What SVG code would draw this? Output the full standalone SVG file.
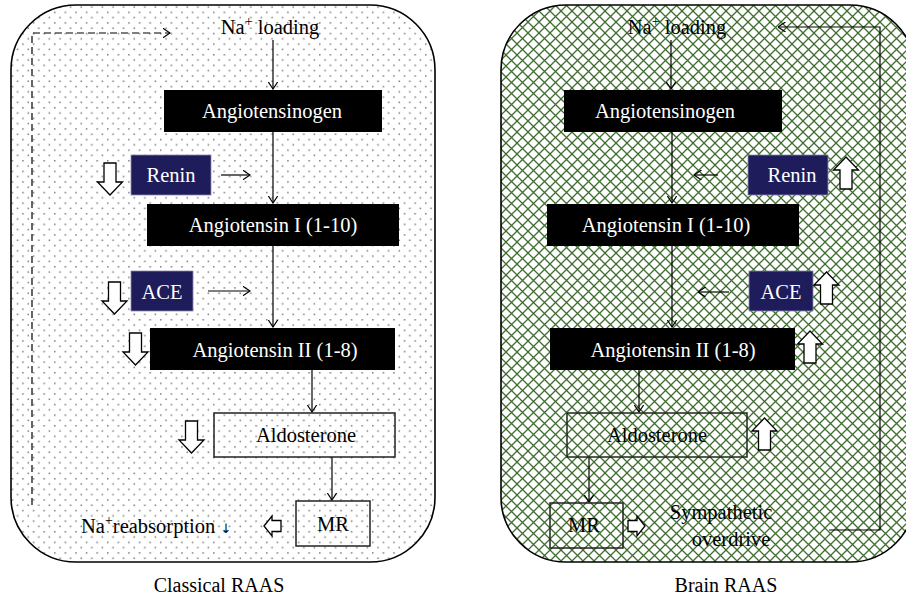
<svg xmlns="http://www.w3.org/2000/svg" xmlns:xlink="http://www.w3.org/1999/xlink" width="906" height="600" viewBox="0 0 906 600">
<style>
  text { font-family: "Liberation Serif", "Times New Roman", serif; font-size: 20.5px; }
  .w { fill: #ffffff; }
  .k { fill: #000000; }
  .mid { text-anchor: middle; }
  .blk { fill: #000000; }
  .navy { fill: #1f1c5b; stroke: #8a8ab0; stroke-width: 0.8; }
  .wbox { fill: none; stroke: #222; stroke-width: 1.5; }
  .hollow { fill: #ffffff; stroke: #000; stroke-width: 1.3; stroke-linejoin: miter; }
  .conn { fill: none; stroke: #000; stroke-width: 1.2; }
  .dash { stroke-dasharray: 7 4; }
  .panel { stroke: #000; stroke-width: 1.6; }
  .cap { font-size: 20px; }
  .sym { font-family: "DejaVu Sans", sans-serif; font-size: 13px; fill: #000000; }
</style>
<defs>
  <pattern id="dots" patternUnits="userSpaceOnUse" width="10.6" height="10.6">
    <rect width="10.6" height="10.6" fill="#ffffff"/>
    <rect x="1" y="1" width="1.5" height="1.5" fill="#7a7a7a"/>
    <rect x="6.3" y="6.3" width="1.5" height="1.5" fill="#7a7a7a"/>
  </pattern>
  <pattern id="hatch" patternUnits="userSpaceOnUse" width="11" height="11">
    <rect width="11" height="11" fill="#ffffff"/>
    <path d="M0,0 L11,11 M0,11 L11,0 M-1,1 L1,-1 M10,12 L12,10" stroke="#3f6e30" stroke-width="1.3" fill="none"/>
  </pattern>
  <marker id="chev" viewBox="0 0 8 10" refX="7.5" refY="5" markerWidth="8" markerHeight="10" markerUnits="userSpaceOnUse" orient="auto">
    <path d="M0,0 L7.5,5 L0,10" fill="none" stroke="#000" stroke-width="1.2"/>
  </marker>
  <path id="downArrow" d="M-6,0 H6 V19 H12.5 L0,32 L-12.5,19 H-6 Z"/>
  <path id="upArrow" d="M-6,0 H6 V-19 H12.5 L0,-32 L-12.5,-19 H-6 Z"/>
  <path id="leftArrow" d="M0,0 L8,-10 V-5.5 H17 V5.5 H8 V10 Z"/>
  <path id="rightArrow" d="M0,0 L-8,-10 V-5.5 H-17 V5.5 H-8 V10 Z"/>
</defs>

<!-- Panels -->
<g id="panel-classical">
  <rect x="11" y="5" width="424" height="557" rx="65" ry="65" fill="url(#dots)" class="panel"/>
</g>
<g id="panel-brain">
  <rect x="501" y="5" width="414" height="557" rx="65" ry="65" fill="url(#hatch)" class="panel"/>
</g>

<!-- Connectors -->
<g id="connectors">
  <!-- classical -->
  <path class="conn" d="M273,40 V89" marker-end="url(#chev)"/>
  <path class="conn" d="M273,132 V203" marker-end="url(#chev)"/>
  <path class="conn" d="M221,175 H250" marker-end="url(#chev)"/>
  <path class="conn" d="M273,246 V327" marker-end="url(#chev)"/>
  <path class="conn" d="M208,291 H250" marker-end="url(#chev)"/>
  <path class="conn" d="M312,370 V412" marker-end="url(#chev)"/>
  <path class="conn" d="M332,457 V500" marker-end="url(#chev)"/>
  <path class="conn dash" d="M32,505 V33 H170" marker-end="url(#chev)"/>
  <!-- brain -->
  <path class="conn" d="M671,40 V89" marker-end="url(#chev)"/>
  <path class="conn" d="M672,132 V203" marker-end="url(#chev)"/>
  <path class="conn" d="M718,175 H694" marker-end="url(#chev)"/>
  <path class="conn" d="M672,246 V327" marker-end="url(#chev)"/>
  <path class="conn" d="M729,292 H698" marker-end="url(#chev)"/>
  <path class="conn" d="M639,370 V412" marker-end="url(#chev)"/>
  <path class="conn" d="M589,457 V502" marker-end="url(#chev)"/>
  <path class="conn" d="M829,530 H880 V27 H778" marker-end="url(#chev)"/>
</g>

<!-- Classical RAAS nodes -->
<g id="c-na-loading">
  <text class="k mid" x="270" y="34">Na<tspan dy="-8" font-size="14">+</tspan><tspan dy="8"> loading</tspan></text>
</g>
<g id="c-angiotensinogen">
  <rect class="blk" x="164" y="90" width="218" height="42"/>
  <text class="w mid" x="272" y="118">Angiotensinogen</text>
</g>
<g id="c-renin">
  <rect class="navy" x="131" y="155" width="80" height="40"/>
  <text class="w mid" x="171" y="182">Renin</text>
  <use href="#downArrow" class="hollow" x="110" y="163"/>
</g>
<g id="c-ang1">
  <rect class="blk" x="147" y="204" width="252" height="42"/>
  <text class="w mid" x="273" y="232">Angiotensin I (1-10)</text>
</g>
<g id="c-ace">
  <rect class="navy" x="131" y="271" width="62" height="40"/>
  <text class="w mid" x="162" y="299">ACE</text>
  <use href="#downArrow" class="hollow" x="114.5" y="282"/>
</g>
<g id="c-ang2">
  <rect class="blk" x="150" y="328" width="245" height="42"/>
  <text class="w mid" x="275" y="357">Angiotensin II (1-8)</text>
  <use href="#downArrow" class="hollow" x="135.5" y="333"/>
</g>
<g id="c-aldosterone">
  <rect class="wbox" x="214" y="413" width="181" height="44"/>
  <text class="k mid" x="306" y="442">Aldosterone</text>
  <use href="#downArrow" class="hollow" x="191.5" y="421"/>
</g>
<g id="c-mr">
  <rect class="wbox" x="296" y="501" width="74" height="45"/>
  <text class="k mid" x="333" y="531">MR</text>
</g>
<g id="c-na-reabsorption">
  <text class="k" x="81" y="533">Na<tspan dy="-8" font-size="14">+</tspan><tspan dy="8">reabsorption </tspan><tspan class="sym">↓&#xFE0E;</tspan></text>
  <use href="#leftArrow" class="hollow" x="264" y="526"/>
</g>
<g id="c-caption">
  <text class="k mid cap" x="219" y="592">Classical RAAS</text>
</g>

<!-- Brain RAAS nodes -->
<g id="b-na-loading">
  <text class="k mid" x="677" y="34">Na<tspan dy="-8" font-size="14">+</tspan><tspan dy="8"> loading</tspan></text>
</g>
<g id="b-angiotensinogen">
  <rect class="blk" x="564" y="90" width="218" height="42"/>
  <text class="w mid" x="665" y="118">Angiotensinogen</text>
</g>
<g id="b-renin">
  <rect class="navy" x="748" y="155" width="80" height="40"/>
  <text class="w mid" x="792" y="182">Renin</text>
  <use href="#upArrow" class="hollow" x="846" y="189"/>
</g>
<g id="b-ang1">
  <rect class="blk" x="547" y="204" width="252" height="42"/>
  <text class="w mid" x="666" y="232">Angiotensin I (1-10)</text>
</g>
<g id="b-ace">
  <rect class="navy" x="749" y="271" width="64" height="40"/>
  <text class="w mid" x="781" y="299">ACE</text>
  <use href="#upArrow" class="hollow" x="826.5" y="304"/>
</g>
<g id="b-ang2">
  <rect class="blk" x="550" y="328" width="245" height="42"/>
  <text class="w mid" x="673" y="357">Angiotensin II (1-8)</text>
  <use href="#upArrow" class="hollow" x="810" y="363"/>
</g>
<g id="b-aldosterone">
  <rect class="wbox" x="567" y="413" width="180" height="44"/>
  <text class="k mid" x="657" y="442">Aldosterone</text>
  <use href="#upArrow" class="hollow" x="764.5" y="450"/>
</g>
<g id="b-mr">
  <rect class="wbox" x="550" y="503" width="73" height="45"/>
  <text class="k mid" x="584" y="532">MR</text>
  <use href="#rightArrow" class="hollow" x="645" y="526"/>
</g>
<g id="b-sympathetic">
  <text class="k mid" x="721" y="519">Sympathetic</text>
  <text class="k mid" x="731" y="546">overdrive</text>
</g>
<g id="b-caption">
  <text class="k mid cap" x="726" y="592">Brain RAAS</text>
</g>
</svg>
